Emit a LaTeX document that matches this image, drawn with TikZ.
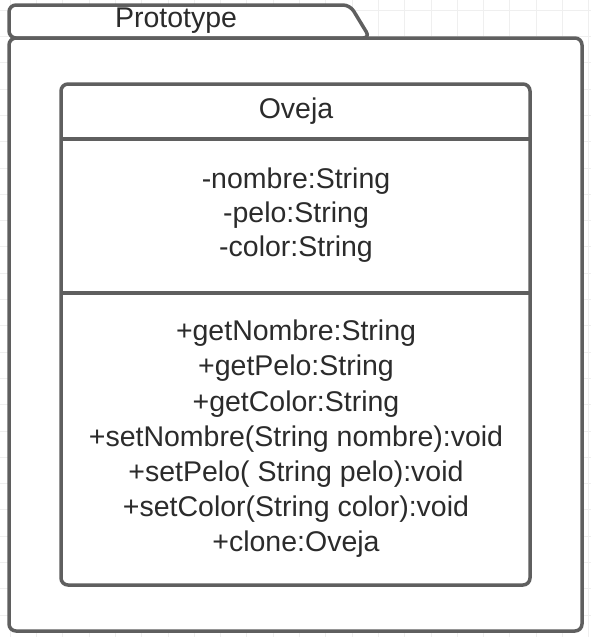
\documentclass[tikz,border=0pt]{standalone}
\usepackage{fontspec}
\setmainfont{Liberation Sans}
\definecolor{umlgray}{HTML}{5F5F5F}
\definecolor{umltext}{HTML}{2B2B2B}
\definecolor{gridgray}{HTML}{EFEFEF}
\begin{document}
\begin{tikzpicture}[x=1pt,y=-1pt]
		\tikzset{frame/.style = {draw=umlgray,line width=3.5pt,fill=white,rounded corners=7pt}}
		\tikzset{label/.style = {text=umltext,font=\fontsize{28.5}{34}\selectfont,align=center,inner sep=0pt}}
		\useasboundingbox (0,0) rectangle (591,637);
		\draw[gridgray,line width=0.6pt,step=26.3pt,shift={(10,10)}] (-10,-10) grid (590,636);
		% package
		\draw[frame] (9,38) -- (9,5) -- (350,5) -- (370,38) -- cycle;
		\draw[frame] (9,38) rectangle (582,631);
		\node[label] (pkg) at (176,21) {Prototype};
		% class
		\draw[frame] (61,84) rectangle (530,585);
		\draw[umlgray,line width=3.5pt] (61,139) -- (530,139);
		\draw[umlgray,line width=3.5pt] (61,293) -- (530,293);
		\node[label] (name) at (296,111) {Oveja};
		\node[label] (attrs) at (296,215) {-nombre:String\\-pelo:String\\-color:String};
		\node[label,font=\fontsize{28.5}{35.2}\selectfont] (ops) at (296,439) {+getNombre:String\\+getPelo:String\\+getColor:String\\+setNombre(String nombre):void\\+setPelo( String pelo):void\\+setColor(String color):void\\+clone:Oveja};
	\end{tikzpicture}
\end{document}
